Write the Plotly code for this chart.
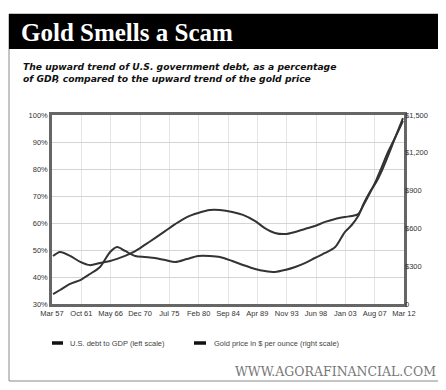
import plotly.graph_objects as go

# ---- data ----
dates = ["1957-05", "1958-06", "1960-01", "1961-08", "1963-02", "1964-09", "1966-04",
         "1967-05", "1968-08", "1970-03", "1971-09", "1973-04", "1974-11", "1976-06",
         "1978-04", "1980-01", "1981-11", "1983-06", "1985-05", "1987-01", "1988-12",
         "1990-06", "1992-01", "1993-08", "1995-03", "1996-09", "1998-04", "1999-11",
         "2001-06", "2002-12", "2004-01", "2005-01", "2005-12", "2006-11", "2007-11",
         "2008-10", "2009-09", "2010-08", "2011-08", "2012-01"]

debt_pct = [47.8, 49.3, 47.8, 45.6, 44.4, 45.2, 45.9, 46.7, 47.8, 49.6,
            51.9, 54.4, 57.0, 59.6, 62.2, 63.7, 64.8, 64.8, 64.1, 63.0,
            60.7, 58.1, 56.3, 55.9, 56.7, 57.8, 58.9, 60.4, 61.5, 62.2,
            62.6, 63.3, 67.0, 71.1, 75.9, 81.1, 86.3, 90.7, 95.6, 97.8]

gold_usd = [79, 111, 159, 190, 238, 294, 413, 452, 421, 381,
            373, 365, 349, 333, 357, 381, 381, 373, 341, 310,
            278, 262, 254, 270, 294, 325, 365, 405, 452, 571,
            627, 698, 802, 889, 968, 1063, 1175, 1294, 1421, 1476]

x_tick_dates = ["1957-03", "1961-10", "1966-05", "1970-12", "1975-07", "1980-02", "1984-09",
                "1989-04", "1993-11", "1998-06", "2003-01", "2007-08", "2012-03"]
x_tick_labels = ["Mar 57", "Oct 61", "May 66", "Dec 70", "Jul 75", "Feb 80", "Sep 84",
                 "Apr 89", "Nov 93", "Jun 98", "Jan 03", "Aug 07", "Mar 12"]

left_ticks = [30, 40, 50, 60, 70, 80, 90, 100]
left_labels = ["30%", "40%", "50%", "60%", "70%", "80%", "90%", "100%"]
right_ticks = [0, 300, 600, 900, 1200, 1500]
right_labels = ["0", "$300", "$600", "$900", "$1,200", "$1,500"]

debt_name = "U.S. debt to GDP (left scale)"
gold_name = "Gold price in $ per ounce (right scale)"

title_text = "Gold Smells a Scam"
subtitle_text = ("The upward trend of U.S. government debt, as a percentage<br>"
                 "of GDP, compared to the upward trend of the gold price")
footer_text = "WWW.AGORAFINANCIAL.COM"

LINE = "#333333"

fig = go.Figure()
fig.add_trace(go.Scatter(x=dates, y=debt_pct, mode="lines", name=debt_name,
                         line=dict(color=LINE, width=2, shape="spline", smoothing=0.8),
                         yaxis="y", showlegend=False))
fig.add_trace(go.Scatter(x=dates, y=gold_usd, mode="lines", name=gold_name,
                         line=dict(color=LINE, width=2, shape="spline", smoothing=0.8),
                         yaxis="y2", showlegend=False))

# page offset (body margin) and target page coordinates of the plot area
OFF = 8
W, H = 446 - OFF, 390 - 2 * OFF
L, R, T, B = 52, 404, 115, 304
def px(xp):
    return (xp - L) / (R - L)
def py(yp):
    return (B - yp) / (B - T)

tickfont = dict(family="Liberation Sans, Arial, sans-serif", size=7.5, color="#333")

fig.update_layout(
    width=W, height=H, autosize=False,
    margin=dict(l=L - OFF, r=W - (R - OFF), t=T - OFF, b=H - (B - OFF), pad=0),
    paper_bgcolor="white", plot_bgcolor="white",
    xaxis=dict(type="date", range=["1957-03-01", "2012-03-01"],
               tickvals=x_tick_dates, ticktext=x_tick_labels, tickangle=0,
               tickfont=tickfont, showgrid=True, gridcolor="#e4e4e4", gridwidth=1,
               showline=True, linecolor="#666", linewidth=2.5, mirror=True,
               ticks="", zeroline=False),
    yaxis=dict(range=[30, 100], tickvals=left_ticks, ticktext=left_labels,
               tickfont=tickfont, showgrid=True, gridcolor="#d4d4d4", gridwidth=1,
               showline=True, linecolor="#666", linewidth=2.5, mirror=True,
               ticks="", zeroline=False),
    yaxis2=dict(range=[0, 1500], tickvals=right_ticks, ticktext=right_labels,
                overlaying="y", side="right", tickfont=tickfont, showgrid=False,
                showline=False, ticks="", zeroline=False),
)

shapes = [
    # outer frame
    dict(type="rect", xref="paper", yref="paper", x0=px(9), x1=px(445), y0=py(381), y1=py(14),
         line=dict(color="#8a8a8a", width=1), fillcolor="rgba(0,0,0,0)", layer="below"),
    # title bar
    dict(type="rect", xref="paper", yref="paper", x0=px(9), x1=px(446), y0=py(49), y1=py(14),
         line=dict(width=0), fillcolor="#000000", layer="below"),
    # legend line samples
    dict(type="line", xref="paper", yref="paper", x0=px(52), x1=px(63), y0=py(343), y1=py(343),
         line=dict(color="#111", width=3.5)),
    dict(type="line", xref="paper", yref="paper", x0=px(194), x1=px(206), y0=py(343), y1=py(343),
         line=dict(color="#111", width=3.5)),
]
fig.update_layout(shapes=shapes)

annotations = [
    dict(text=f"<b>{title_text}</b>", xref="paper", yref="paper", x=px(19), y=py(32),
         xanchor="left", yanchor="middle", showarrow=False,
         font=dict(family="Liberation Serif, Times New Roman, serif", size=25, color="white")),
    dict(text=f"<b><i>{subtitle_text}</i></b>", xref="paper", yref="paper", x=px(21), y=py(59),
         xanchor="left", yanchor="top", showarrow=False, align="left",
         font=dict(family="DejaVu Sans, sans-serif", size=9.2, color="#111")),
    dict(text=debt_name, xref="paper", yref="paper", x=px(68), y=py(343),
         xanchor="left", yanchor="middle", showarrow=False,
         font=dict(family="Liberation Sans, Arial, sans-serif", size=7.5, color="#444")),
    dict(text=gold_name, xref="paper", yref="paper", x=px(212), y=py(343),
         xanchor="left", yanchor="middle", showarrow=False,
         font=dict(family="Liberation Sans, Arial, sans-serif", size=7.5, color="#444")),
    dict(text=footer_text, xref="paper", yref="paper", x=px(438), y=py(371),
         xanchor="right", yanchor="middle", showarrow=False,
         font=dict(family="DejaVu Serif, serif", size=12.5, color="#777")),
]
fig.update_layout(annotations=annotations)

fig.write_html("out.html")
